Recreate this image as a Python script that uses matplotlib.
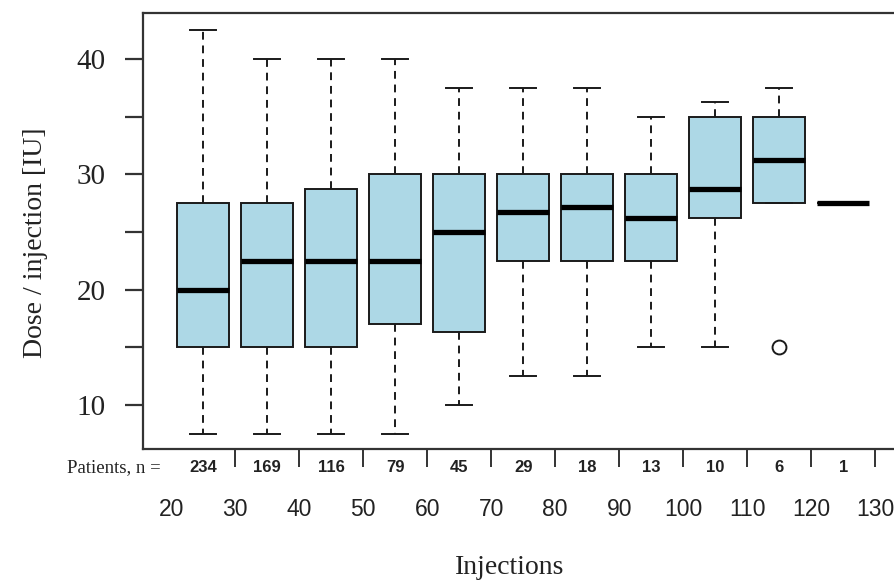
import matplotlib
matplotlib.use("Agg")
import matplotlib.pyplot as plt
from matplotlib.ticker import FixedLocator

# ---- data ----
bin_centers = [25, 35, 45, 55, 65, 75, 85, 95, 105, 115, 125]
whisker_low = [7.5, 7.5, 7.5, 7.5, 10, 12.5, 12.5, 15, 15, 27.5, 27.5]
q1 = [15, 15, 15, 17, 16.3, 22.5, 22.5, 22.5, 26.25, 27.5, 27.5]
medians = [20, 22.5, 22.5, 22.5, 25, 26.75, 27.2, 26.25, 28.75, 31.25, 27.5]
q3 = [27.5, 27.5, 28.75, 30, 30, 30, 30, 30, 35, 35, 27.5]
whisker_high = [42.5, 40, 40, 40, 37.5, 37.5, 37.5, 35, 36.3, 37.5, 27.5]
outliers = [[], [], [], [], [], [], [], [], [], [15], []]
patients_n = [234, 169, 116, 79, 45, 29, 18, 13, 10, 6, 1]
x_ticks = [20, 30, 40, 50, 60, 70, 80, 90, 100, 110, 120, 130]

W, H = 894, 583
fig = plt.figure(figsize=(W / 100, H / 100), dpi=100)
left, right, top, bottom = 143, 900, 13, 449
ax = fig.add_axes([left / W, (H - bottom) / H, (right - left) / W, (bottom - top) / H])

stats = []
for i in range(len(bin_centers)):
    stats.append(dict(whislo=whisker_low[i], q1=q1[i], med=medians[i], q3=q3[i],
                      whishi=whisker_high[i], fliers=outliers[i]))

ax.bxp(stats, positions=bin_centers, widths=8.2, capwidths=4.1, patch_artist=True,
       showfliers=True,
       boxprops=dict(facecolor="#ADD8E6", edgecolor="#1a1a1a", linewidth=1.4),
       medianprops=dict(color="black", linewidth=3.8, solid_capstyle="butt"),
       whiskerprops=dict(color="#1a1a1a", linewidth=1.4, linestyle=(0, (4, 3))),
       capprops=dict(color="#1a1a1a", linewidth=1.4),
       flierprops=dict(marker="o", markersize=10, markerfacecolor="none",
                       markeredgecolor="#1a1a1a", markeredgewidth=1.4))

ax.set_xlim(15.6, 15.6 + (right - left) / 6.4)
ax.set_ylim(10 - (bottom - 405) / 11.55, 40 + (59 - top) / 11.55)

for s in ax.spines.values():
    s.set_linewidth(1.6)
    s.set_color("#333333")
ax.spines["right"].set_visible(False)

txt = "#222222"
# y axis
ax.set_yticks([10, 20, 30, 40])
ax.yaxis.set_minor_locator(FixedLocator([15, 25, 35]))
ax.tick_params(axis="y", which="both", length=13, width=1.6, color="#333333", pad=14)
ax.set_yticklabels([str(v) for v in [10, 20, 30, 40]], fontfamily="Liberation Serif",
                   fontsize=21, color=txt)
ax.set_ylabel("Dose / injection [IU]", fontfamily="Liberation Serif", fontsize=20,
              color=txt, va="center")
ax.yaxis.set_label_coords((36 - left) / (right - left), (bottom - 243) / (bottom - top))

# x axis
ax.set_xticks(x_ticks)
ax.set_xticklabels([str(v) for v in x_ticks], fontfamily="Liberation Sans",
                   fontsize=16.5, color=txt)
ax.tick_params(axis="x", which="major", length=13, width=1.4, color="#333333", pad=22,
               direction="out")
ax.xaxis.get_major_ticks()[0].tick1line.set_visible(False)
ax.set_xlabel("Injections", fontfamily="Liberation Serif", fontsize=20, color=txt,
              va="center")
ax.xaxis.set_label_coords((510 - left) / (right - left), (bottom - 568) / (bottom - top))

# patient counts strip
tr = ax.get_xaxis_transform()
ny = (bottom - 468) / (bottom - top)
for xc, n in zip(bin_centers, patients_n):
    ax.text(xc, ny, str(n), transform=tr, ha="center", va="center",
            fontfamily="Liberation Sans", fontsize=12,
            fontweight="bold", color=txt, clip_on=False)
ax.text((161 - left) / (right - left), ny, "Patients, n =", transform=ax.transAxes,
        ha="right", va="center", fontfamily="Liberation Serif", fontsize=13.5, color=txt)

fig.savefig("out.png", dpi=100)
